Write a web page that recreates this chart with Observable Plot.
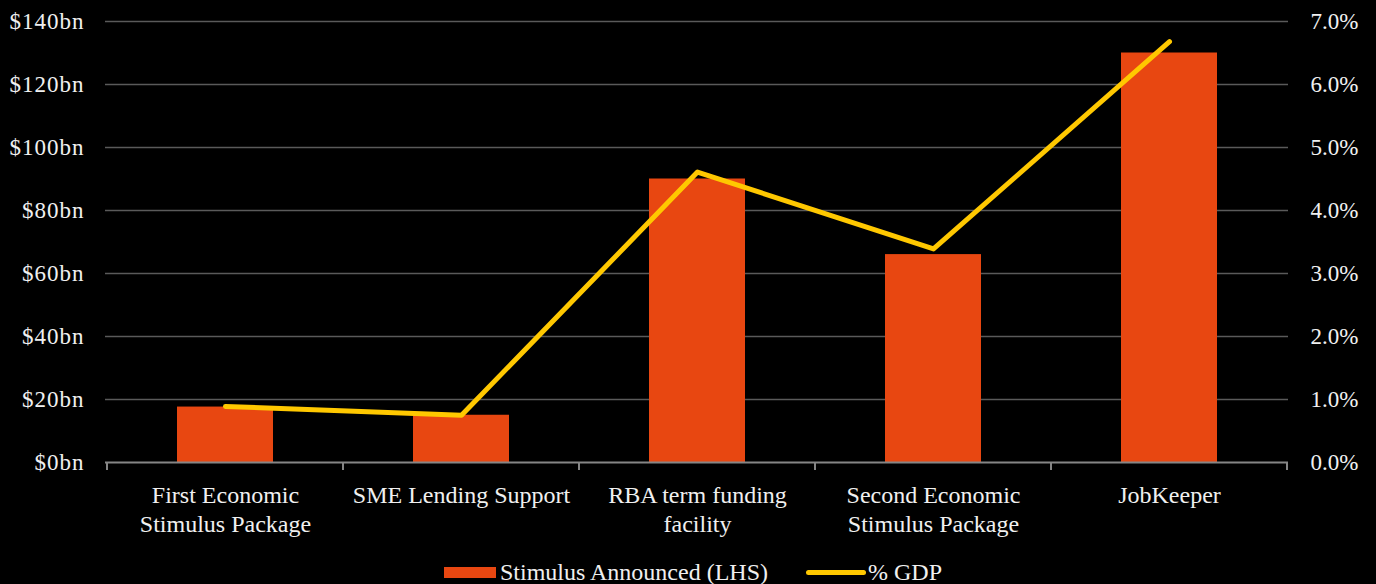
<!DOCTYPE html>
<html>
<head>
<meta charset="utf-8">
<script src="https://cdn.jsdelivr.net/npm/d3@7"></script>
<script src="https://cdn.jsdelivr.net/npm/@observablehq/plot@0.6"></script>
<style>
  html, body { margin: 0; padding: 0; background: #000; }
  body { width: 1376px; height: 584px; overflow: hidden; font-family: "Liberation Serif", serif; color: #f0f0f0; }
  #legend { position: relative; width: 1376px; height: 36px; overflow: hidden; }
  #legend .sw-bar { position: absolute; left: 444px; top: 19px; width: 52px; height: 11px; background: #E84711; }
  #legend .sw-line { position: absolute; left: 806px; top: 21.5px; width: 60px; height: 5px; border-radius: 3px; background: #FFC800; }
  #legend .lab { position: absolute; top: 12px; font-size: 24px; line-height: 24px; white-space: nowrap; }
</style>
</head>
<body>
<div id="chart"></div>
<div id="legend">
  <div class="sw-bar"></div><span class="lab" style="left:500px">Stimulus Announced (LHS)</span>
  <div class="sw-line"></div><span class="lab" style="left:868px">% GDP</span>
</div>
<script>
// ---- Data ----
const categories = [
  "First Economic\nStimulus Package",
  "SME Lending Support",
  "RBA term funding\nfacility",
  "Second Economic\nStimulus Package",
  "JobKeeper"
];
const stimulusBn = [17.6, 15, 90, 66, 130];       // LHS, $bn
const gdpPct = [0.89, 0.75, 4.61, 3.39, 6.68];     // RHS, % of GDP
const leftTicks = [0, 20, 40, 60, 80, 100, 120, 140];
const rightTicks = [0, 1, 2, 3, 4, 5, 6, 7];
const pctToBn = 20; // 7.0% on the right aligns with $140bn on the left

const data = categories.map((c, i) => ({ cat: c, bn: stimulusBn[i], pct: gdpPct[i] }));

const BAR = "#E84711", LINE = "#FFC800", GRID = "#5a5a5a", AXIS = "#858585";

const chart = Plot.plot({
  width: 1376,
  height: 548,
  marginTop: 21,
  marginBottom: 86,
  marginLeft: 105,
  marginRight: 88,
  style: { background: "#000", color: "#f0f0f0", fontFamily: "'Liberation Serif', serif", fontSize: "23px" },
  x: { domain: categories, paddingInner: 0.595, paddingOuter: 0.2975, label: null },
  y: { domain: [0, 140], label: null },
  marks: [
    Plot.ruleY(leftTicks.slice(1), { stroke: GRID, strokeWidth: 1.6 }),
    Plot.barY(data, { x: "cat", y: "bn", fill: BAR }),
    Plot.ruleY([0], { stroke: AXIS, strokeWidth: 2 }),
    Plot.line(data, { x: "cat", y: d => d.pct * pctToBn, stroke: LINE, strokeWidth: 5, strokeLinecap: "round", strokeLinejoin: "round" }),
    Plot.axisY(leftTicks, { anchor: "left", tickSize: 0, tickPadding: 21, tickFormat: d => `$${d}bn`, label: null }),
    Plot.axisY(rightTicks.map(v => v * pctToBn), { anchor: "right", tickSize: 0, tickPadding: 22, tickFormat: d => (d / pctToBn).toFixed(1) + "%", label: null }),
    Plot.axisX({ anchor: "bottom", tickSize: 0, tickPadding: 20, lineHeight: 1.21, fontSize: 24, label: null })
  ]
});

document.getElementById("chart").appendChild(chart);

// slightly looser spacing on the left-axis labels, as in the reference typeface
d3.select(chart).selectAll("g[text-anchor='end'] text").style("letter-spacing", "1px");

// category boundary ticks on the bottom axis, derived from the band scale
const xs = chart.scale("x");
const ys = chart.scale("y");
const y0 = ys.apply(0);
const half = (xs.step - xs.bandwidth) / 2;
const bounds = categories.map(c => xs.apply(c) - half);
bounds.push(xs.apply(categories[categories.length - 1]) + xs.bandwidth + half);
d3.select(chart).append("g")
  .selectAll("line").data(bounds).join("line")
  .attr("x1", d => d).attr("x2", d => d)
  .attr("y1", y0).attr("y2", y0 + 8)
  .attr("stroke", AXIS).attr("stroke-width", 2);
</script>
</body>
</html>
